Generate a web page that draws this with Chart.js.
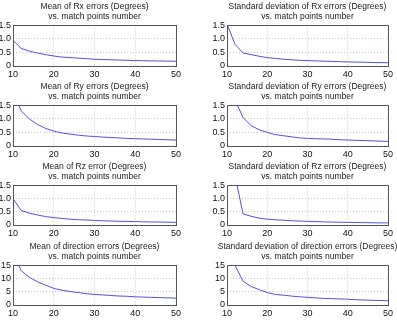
<!DOCTYPE html>
<html>
<head>
<meta charset="utf-8">
<script src="https://cdn.jsdelivr.net/npm/chart.js@4/dist/chart.umd.min.js"></script>
<style>
  body { margin: 0; background: #fff; width: 397px; height: 333px; overflow: hidden; position: relative; }
  canvas { position: absolute; }
  .ttl { position: absolute; text-align: center; font-family: "Liberation Sans", Arial, sans-serif;
         font-size: 8.5px; line-height: 10px; color: #222; white-space: nowrap; }
</style>
</head>
<body>
<script>
/*------------------------------------------------------------------------------------------------*/
//datos
const matchPoints = [10, 12, 14, 16, 18, 20, 22, 24, 26, 28, 30, 32, 34, 36, 38, 40, 42, 44, 46, 48, 50];

const meanRx = [0.95, 0.65, 0.55, 0.48, 0.42, 0.37, 0.33, 0.31, 0.29, 0.27, 0.25, 0.24, 0.23, 0.22, 0.21, 0.20, 0.195, 0.19, 0.185, 0.18, 0.175];
const stdRx  = [1.55, 0.80, 0.48, 0.42, 0.36, 0.31, 0.28, 0.25, 0.23, 0.21, 0.20, 0.19, 0.18, 0.17, 0.16, 0.15, 0.145, 0.14, 0.13, 0.125, 0.12];
const meanRy = [2.00, 1.30, 1.00, 0.80, 0.65, 0.55, 0.48, 0.44, 0.40, 0.37, 0.35, 0.33, 0.31, 0.30, 0.28, 0.27, 0.26, 0.25, 0.24, 0.23, 0.22];
const stdRy  = [2.40, 1.70, 1.05, 0.75, 0.60, 0.50, 0.42, 0.38, 0.34, 0.30, 0.28, 0.27, 0.26, 0.25, 0.23, 0.22, 0.21, 0.20, 0.19, 0.18, 0.17];
const meanRz = [1.00, 0.55, 0.45, 0.38, 0.32, 0.28, 0.25, 0.22, 0.20, 0.19, 0.17, 0.16, 0.15, 0.14, 0.135, 0.13, 0.12, 0.115, 0.11, 0.105, 0.10];
const stdRz  = [3.00, 1.86, 0.42, 0.33, 0.26, 0.22, 0.20, 0.18, 0.16, 0.15, 0.14, 0.13, 0.12, 0.11, 0.105, 0.10, 0.095, 0.09, 0.085, 0.08, 0.08];
const meanDir = [20, 13, 10.5, 8.8, 7.5, 6.3, 5.6, 5.1, 4.7, 4.3, 4.0, 3.8, 3.6, 3.4, 3.3, 3.1, 3.0, 2.9, 2.8, 2.7, 2.6];
const stdDir  = [22, 15, 9.0, 7.0, 5.8, 4.7, 4.0, 3.7, 3.4, 3.1, 2.9, 2.7, 2.5, 2.4, 2.3, 2.2, 2.0, 1.9, 1.8, 1.7, 1.6];

const xTicks = [10, 20, 30, 40, 50];
const yTicksSmall = [0, 0.5, 1, 1.5];
const yTicksDir = [0, 5, 10, 15];

const titles = [
    ['Mean of Rx errors (Degrees)', 'vs. match points number'],
    ['Standard deviation of Rx errors (Degrees)', 'vs. match points number'],
    ['Mean of Ry errors (Degrees)', 'vs. match points number'],
    ['Standard deviation of Ry errors (Degrees)', 'vs. match points number'],
    ['Mean of Rz error (Degrees)', 'vs. match points number'],
    ['Standard deviation of Rz errors (Degrees)', 'vs. match points number'],
    ['Mean of direction errors (Degrees)', 'vs. match points number'],
    ['Standard deviation of direction errors (Degrees)', 'vs. match points number']
];
const series = [meanRx, stdRx, meanRy, stdRy, meanRz, stdRz, meanDir, stdDir];

/*------------------------------------------------------------------------------------------------*/
//layout
const colLeft = [13, 227];
const colRight = [176, 388];
const rowTop = [24, 104, 184, 264];
const rowBottom = [66, 146, 225, 305];

const boxPlugin = {
    id: 'box',
    afterDraw(chart) {
        const a = chart.chartArea;
        const c = chart.ctx;
        c.save();
        c.strokeStyle = '#555';
        c.lineWidth = 1;
        c.strokeRect(Math.round(a.left) + 0.5, Math.round(a.top) + 0.5,
                     Math.round(a.right - a.left), Math.round(a.bottom - a.top));
        c.restore();
    }
};

/*------------------------------------------------------------------------------------------------*/
//grafico
for (let i = 0; i < series.length; i++) {
    const col = i % 2;
    const row = Math.floor(i / 2);
    const yAxisW = col === 0 ? 13 : 18;
    const pl = colLeft[col], pr = colRight[col];
    const pt = rowTop[row], pb = rowBottom[row];
    const padTop = 6, padRight = 9, xAxisH = 14;

    const cv = document.createElement('canvas');
    const w = yAxisW + (pr - pl) + padRight;
    const h = padTop + (pb - pt) + xAxisH;
    cv.style.left = (pl - yAxisW) + 'px';
    cv.style.top = (pt - padTop) + 'px';
    cv.style.width = w + 'px';
    cv.style.height = h + 'px';
    cv.width = w; cv.height = h;
    document.body.appendChild(cv);

    const t = document.createElement('div');
    t.className = 'ttl';
    t.style.left = (pl - 40) + 'px';
    t.style.width = (pr - pl + 80) + 'px';
    t.style.top = (pt - 23) + 'px';
    t.innerHTML = titles[i][0] + '<br>' + titles[i][1];
    document.body.appendChild(t);

    const dir = i >= 6;
    const yt = dir ? yTicksDir : yTicksSmall;
    const pts = matchPoints.map((x, k) => ({ x: x, y: series[i][k] }));

    new Chart(cv, {
        type: 'line',
        data: {
            datasets: [{
                data: pts,
                borderColor: 'rgb(80,80,225)',
                borderWidth: 1,
                pointRadius: 0,
                tension: 0,
                fill: false
            }]
        },
        options: {
            responsive: false,
            animation: false,
            events: [],
            layout: { padding: { top: padTop, right: padRight, left: 0, bottom: 0 } },
            plugins: { legend: { display: false }, tooltip: { enabled: false } },
            scales: {
                x: {
                    type: 'linear',
                    min: xTicks[0],
                    max: xTicks[xTicks.length - 1],
                    afterBuildTicks: s => { s.ticks = xTicks.map(v => ({ value: v })); },
                    afterFit: s => { s.height = xAxisH; },
                    grid: { color: '#c8c8c8', drawTicks: false, lineWidth: 1 },
                    border: { display: false, dash: [1, 2] },
                    ticks: { padding: 3, maxRotation: 0, autoSkip: false, color: '#111',
                             font: { family: 'Liberation Sans', size: 9 } }
                },
                y: {
                    min: yt[0],
                    max: yt[yt.length - 1],
                    afterBuildTicks: s => { s.ticks = yt.map(v => ({ value: v })); },
                    afterFit: s => { s.width = yAxisW; },
                    grid: { color: '#c8c8c8', drawTicks: false, lineWidth: 1 },
                    border: { display: false, dash: [1, 2] },
                    ticks: { padding: 2, autoSkip: false, color: '#111',
                             font: { family: 'Liberation Sans', size: 9 } }
                }
            }
        },
        plugins: [boxPlugin]
    });
}
</script>
</body>
</html>
